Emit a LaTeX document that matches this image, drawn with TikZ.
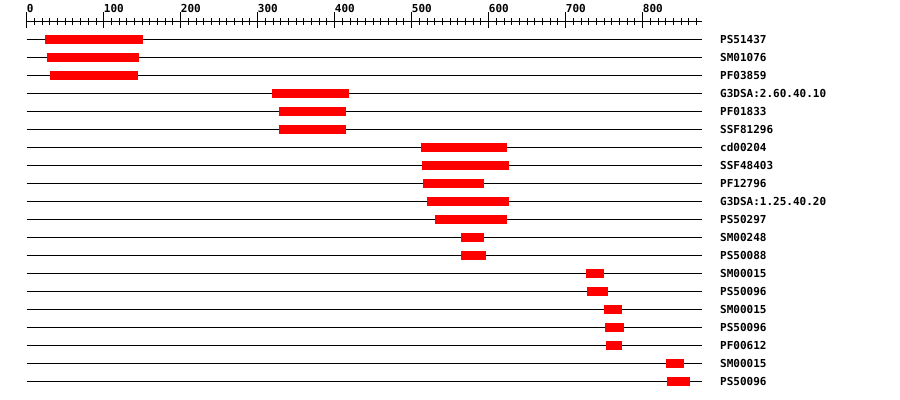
\documentclass[tikz,border=0pt]{standalone}
\usepackage{fontspec}
\setmonofont{DejaVu Sans Mono}
\definecolor{hitred}{RGB}{255,0,0}
\tikzset{
  track/.style={line width=1pt, black},
  hit/.style={fill=hitred},
  lbl/.style={anchor=west, inner sep=0pt, font=\fontsize{11}{13}\ttfamily\bfseries},
  numlbl/.style={anchor=west, inner sep=0pt, font=\fontsize{11}{13}\ttfamily\bfseries}
}
\begin{document}
\begin{tikzpicture}[x=0.77pt,y=1pt]
            \useasboundingbox[fill=white] (-34.68,0) rectangle (1134.2,-400);
            % scale
            \draw[track] (0,-21.7) -- (877,-21.7);
            \foreach \t in {0,10,...,870}
              \draw[track,shift={(\t,-21.7)}] (0pt,3.3pt) -- (0pt,-3.3pt);
            \foreach \t in {0,100,...,800} {
              \draw[track,shift={(\t,-21.7)}] (0pt,9.4pt) -- (0pt,-6.6pt);
              \node[numlbl] (n\t) at (\t,-8) {\t};
            }
            % matches
            \foreach \s/\e/\nm [count=\i] in {24/151/PS51437, 26/146/SM01076, 30/144/PF03859,
                319/419/G3DSA:2.60.40.10, 328/415/PF01833, 328/415/SSF81296,
                512/624/cd00204, 513/626/SSF48403, 515/594/PF12796,
                520/626/G3DSA:1.25.40.20, 530/624/PS50297, 564/594/SM00248,
                564/597/PS50088, 726/750/SM00015, 728/755/PS50096,
                750/773/SM00015, 751/776/PS50096, 752/773/PF00612,
                830/854/SM00015, 832/861/PS50096} {
              \pgfmathsetmacro\yy{-39.3-18*(\i-1)}
              \draw[track] (0,\yy) -- (877,\yy);
              \fill[hit] (\s,\yy-4.5) rectangle (\e,\yy+4.5);
              \node[lbl] (r\i) at (900.4,\yy) {\nm};
            }
          \end{tikzpicture}
\end{document}
